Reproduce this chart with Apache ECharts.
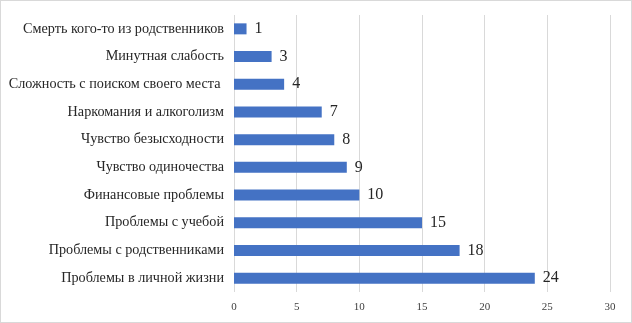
<!DOCTYPE html>
<html><head><meta charset="utf-8">
<script src="https://cdn.jsdelivr.net/npm/echarts@6/dist/echarts.min.js"></script>
<style>html,body{margin:0;padding:0;background:#fff}#c{width:632px;height:323px;box-sizing:border-box;border:1px solid #d9d9d9}</style>
</head><body><div id="c"></div>
<script>
const categories = ["Смерть кого-то из родственников","Минутная слабость","Сложность с поиском своего места ","Наркомания и алкоголизм","Чувство безысходности","Чувство одиночества","Финансовые проблемы","Проблемы с учебой","Проблемы с родственниками","Проблемы в личной жизни"];
const values = [1,3,4,7,8,9,10,15,18,24];
const xTicks = [0,5,10,15,20,25,30];
const chart = echarts.init(document.getElementById('c'));
const serif = '"Liberation Serif","Times New Roman",serif';
chart.setOption({
  animation:false,
  grid:{left:233,right:21,top:14,bottom:30,containLabel:false},
  xAxis:{type:'value',min:xTicks[0],max:xTicks[xTicks.length-1],interval:5,
    axisLine:{show:false},axisTick:{show:false},
    splitLine:{lineStyle:{color:'#d9d9d9',width:1}},
    axisLabel:{color:'#404040',fontFamily:serif,fontSize:11,margin:10}},
  yAxis:{type:'category',data:categories,inverse:true,
    axisLine:{show:false},axisTick:{show:false},
    axisLabel:{color:'#262626',fontFamily:serif,fontSize:14.2,margin:10}},
  series:[{type:'bar',data:values,barWidth:11,
    itemStyle:{color:'#4472C4'},
    label:{show:true,position:'right',distance:8,color:'#262626',fontFamily:serif,fontSize:16}}]
});
</script></body></html>
